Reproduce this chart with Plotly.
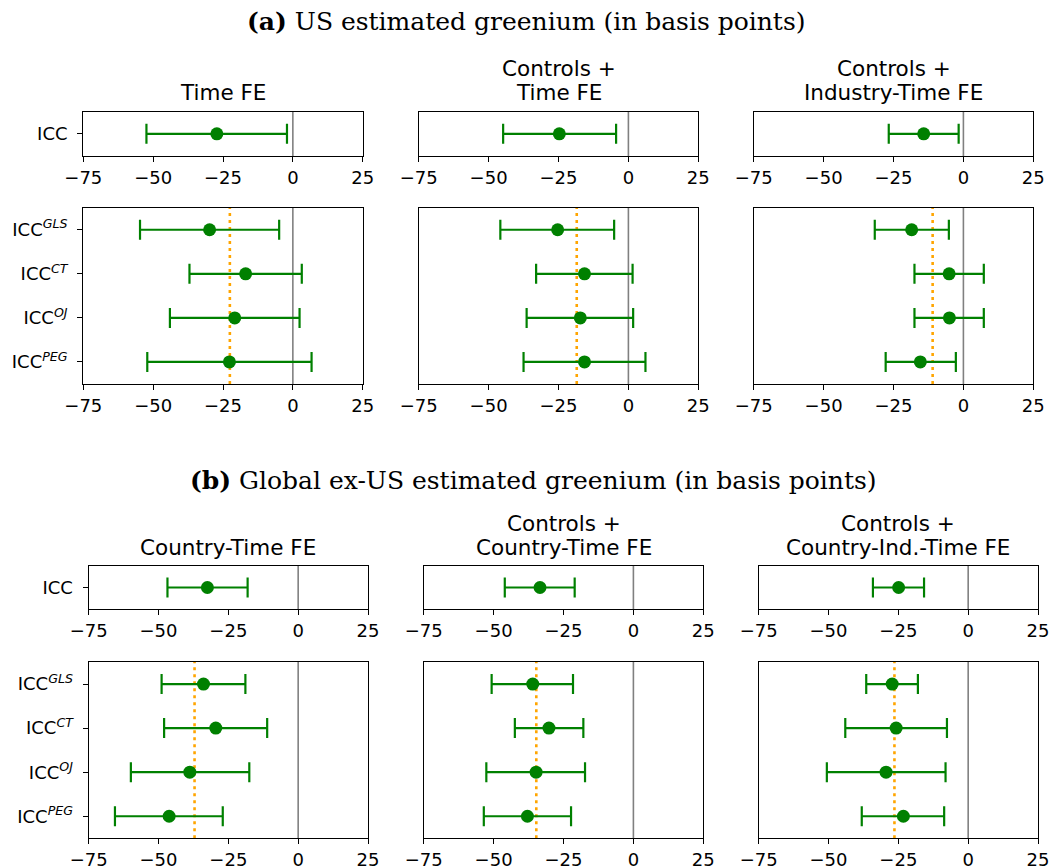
import numpy as np
import plotly.graph_objects as go

W, H = 1049, 867

# ---- data -------------------------------------------------------------
x_ticks = [-75, -50, -25, 0, 25]
icc_label = ["ICC"]
estimators = ["ICC<sup><i>GLS</i></sup>", "ICC<sup><i>CT</i></sup>",
              "ICC<sup><i>OJ</i></sup>", "ICC<sup><i>PEG</i></sup>"]

us_panel_title = "<b>(a)</b> US estimated greenium (in basis points)"
gl_panel_title = "<b>(b)</b> Global ex-US estimated greenium (in basis points)"
us_specs = [["Time FE"], ["Controls +", "Time FE"], ["Controls +", "Industry-Time FE"]]
gl_specs = [["Country-Time FE"], ["Controls +", "Country-Time FE"],
            ["Controls +", "Country-Ind.-Time FE"]]

# US: pooled ICC (one estimate per specification)
us_icc_est = [-27.2, -24.7, -14.2]
us_icc_lo = [-52.4, -44.8, -26.7]
us_icc_hi = [-2.1, -4.4, -1.7]

# US: individual ICC estimators (GLS, CT, OJ, PEG) per specification
us_est = [[-29.8, -16.9, -20.8, -22.7],
          [-25.3, -15.7, -17.2, -15.7],
          [-18.5, -5.1, -5.0, -15.4]]
us_lo = [[-54.7, -37.0, -44.0, -52.1],
         [-45.8, -33.0, -36.4, -37.5],
         [-31.7, -17.5, -17.5, -27.8]]
us_hi = [[-4.9, 3.2, 2.4, 6.7],
         [-5.1, 1.5, 1.7, 6.1],
         [-5.2, 7.3, 7.3, -2.7]]

# Global ex-US: pooled ICC
gl_icc_est = [-32.5, -33.4, -24.9]
gl_icc_lo = [-46.8, -46.0, -34.1]
gl_icc_hi = [-18.1, -21.0, -15.8]

# Global ex-US: individual estimators
gl_est = [[-33.9, -29.5, -38.8, -46.2],
          [-36.0, -30.2, -34.8, -37.9],
          [-27.2, -25.8, -29.4, -23.2]]
gl_lo = [[-48.9, -48.0, -59.9, -65.6],
         [-50.7, -42.4, -52.6, -53.5],
         [-36.5, -44.0, -50.6, -38.1]]
gl_hi = [[-18.9, -11.1, -17.5, -27.0],
         [-21.6, -17.9, -17.3, -22.3],
         [-18.0, -7.6, -8.1, -8.6]]

# ---- layout geometry (pixels) ------------------------------------------
panels = [
    dict(title=us_panel_title, title_xy=(526, 21), specs=us_specs,
         cols_x=[(83.3, 362.7), (418.7, 698.3), (753.7, 1033.3)],
         top_y=(111.7, 156.0), bot_y=(207.7, 384.0), title_base=93.0,
         icc=(us_icc_est, us_icc_lo, us_icc_hi), est=(us_est, us_lo, us_hi)),
    dict(title=gl_panel_title, title_xy=(533, 480), specs=gl_specs,
         cols_x=[(88.7, 368.0), (423.7, 703.3), (758.7, 1038.0)],
         top_y=(565.7, 609.3), bot_y=(662.0, 838.3), title_base=547.7,
         icc=(gl_icc_est, gl_icc_lo, gl_icc_hi), est=(gl_est, gl_lo, gl_hi)),
]

GREEN = "#008000"
ORANGE = "#FFA500"
TICK_FONT = dict(family="DejaVu Sans", size=18, color="black")
TITLE_FONT = dict(family="DejaVu Sans", size=21.5, color="black")
LINE_SPACING = 24.5


def px_x(v):
    return v / W


def px_y(v):
    return 1 - v / H


fig = go.Figure()
layout = dict(width=W, height=H, margin=dict(l=0, r=0, t=0, b=0, autoexpand=False),
              paper_bgcolor="white", plot_bgcolor="white", showlegend=False)
shapes = []
annotations = []


def add_axes(n, xdom, ydom, yrange, tickvals, ticktext, show_y):
    xs = "" if n == 1 else str(n)
    layout["xaxis" + xs] = dict(
        domain=[px_x(xdom[0]), px_x(xdom[1])], anchor="y" + xs, automargin=False,
        range=[-75, 25], tickvals=x_ticks, ticktext=[str(t).replace("-", "\u2212") for t in x_ticks],
        ticks="outside", ticklen=5, tickwidth=1.2, tickcolor="black",
        ticklabeloverflow="allow",
        showline=True, mirror=True, linecolor="black", linewidth=1.3,
        showgrid=False, zeroline=False, tickfont=TICK_FONT, fixedrange=True)
    yaxis = dict(
        domain=[px_y(ydom[1]), px_y(ydom[0])], anchor="x" + xs, automargin=False,
        range=yrange, showline=True, mirror=True, linecolor="black", linewidth=1.3,
        showgrid=False, zeroline=False, fixedrange=True)
    if show_y:
        yaxis.update(tickvals=tickvals, ticktext=ticktext, ticks="outside", ticklen=5,
                     tickwidth=1.2, tickcolor="black", ticklabelstandoff=6,
                     tickfont=TICK_FONT)
    else:
        yaxis.update(showticklabels=False, ticks="")
    layout["yaxis" + xs] = yaxis
    return "x" + xs, "y" + xs


def add_errorbars(xa, ya, est, lo, hi):
    est = np.asarray(est, dtype=float)
    lo = np.asarray(lo, dtype=float)
    hi = np.asarray(hi, dtype=float)
    fig.add_trace(go.Scatter(
        x=est, y=list(range(len(est))), mode="markers",
        marker=dict(color=GREEN, size=13),
        error_x=dict(type="data", symmetric=False, array=hi - est,
                     arrayminus=est - lo, color=GREEN, thickness=2.2, width=10),
        xaxis=xa, yaxis=ya, hoverinfo="x"))


def vline(xa, ya, x, color, width, dash="solid"):
    shapes.append(dict(type="line", xref=xa, yref=ya + " domain", x0=x, x1=x,
                       y0=0, y1=1, line=dict(color=color, width=width, dash=dash),
                       layer="below"))


n = 0
for p in panels:
    annotations.append(dict(text=p["title"], x=px_x(p["title_xy"][0]), y=px_y(p["title_xy"][1]),
                            xref="paper", yref="paper", xanchor="center", yanchor="middle",
                            showarrow=False,
                            font=dict(family="DejaVu Serif", size=25, color="black")))
    icc_est, icc_lo, icc_hi = p["icc"]
    est_all, lo_all, hi_all = p["est"]
    for c, xdom in enumerate(p["cols_x"]):
        # column title (one annotation per line, bottom line aligned)
        lines = p["specs"][c]
        for k, line in enumerate(reversed(lines)):
            annotations.append(dict(text=line, x=px_x((xdom[0] + xdom[1]) / 2),
                                    y=px_y(p["title_base"] - k * LINE_SPACING),
                                    xref="paper", yref="paper", xanchor="center",
                                    yanchor="middle", showarrow=False, font=TITLE_FONT))
        # pooled ICC
        n += 1
        xa, ya = add_axes(n, xdom, p["top_y"], [-0.5, 0.5], [0], icc_label, c == 0)
        vline(xa, ya, 0, "#808080", 1.6)
        add_errorbars(xa, ya, [icc_est[c]], [icc_lo[c]], [icc_hi[c]])
        # individual estimators with their average
        n += 1
        xa, ya = add_axes(n, xdom, p["bot_y"], [3.5, -0.5], [0, 1, 2, 3], estimators, c == 0)
        vline(xa, ya, 0, "#808080", 1.6)
        vline(xa, ya, float(np.mean(est_all[c])), ORANGE, 2.6, dash="3px,4px")
        add_errorbars(xa, ya, est_all[c], lo_all[c], hi_all[c])

layout["shapes"] = shapes
layout["annotations"] = annotations
fig.update_layout(**layout)
fig.write_html("out.html", config={"displayModeBar": False})
